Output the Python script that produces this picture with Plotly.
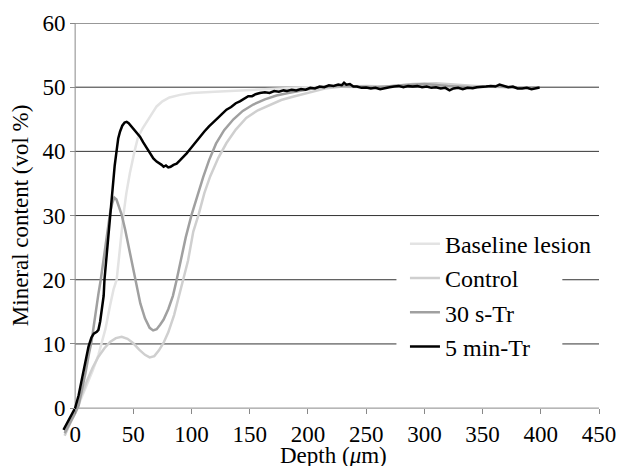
import plotly.graph_objects as go

# ---------------- data ----------------
baseline_x = [-9, -5, 0, 5, 10, 15, 20, 23, 26, 30, 33, 35.7, 38.5, 41.4, 44, 47, 51, 54, 58, 62, 66, 70, 75, 81, 90,
              100, 120, 150, 180, 200, 220, 240, 260, 280, 300, 320, 340, 360, 380, 398]
baseline_y = [-4.2, -2.8, -0.8, 1.4, 3.6, 5.8, 8.3, 10.2, 12.3, 16.0, 18.5, 20.0, 25.0, 30.0, 33.5, 36.6, 40.0, 42.2,
              43.6, 44.7, 46.0, 47.0, 47.8, 48.4, 48.8, 49.1, 49.3, 49.6, 49.8, 50.0, 50.1, 50.0, 49.9, 50.2, 50.4,
              50.0, 49.9, 50.1, 50.0, 49.9]

control_x = [-9, -5, 0, 5, 10, 15, 20, 25, 30, 35, 40, 45, 50, 55, 60, 64, 68, 72, 76, 80, 85, 90, 93, 97, 101.5,
             106, 111, 116, 123, 130, 138, 147, 157, 167, 177, 187, 197, 207, 216, 230, 250, 270, 290, 310, 330, 350,
             370, 385, 398]
control_y = [-4.3, -2.6, -0.5, 1.8, 4.2, 6.3, 8.0, 9.3, 10.3, 10.9, 11.1, 10.8, 10.1, 9.1, 8.3, 7.9, 8.1, 9.0, 10.2,
             11.8, 14.5, 18.0, 20.0, 23.0, 27.5, 30.1, 33.5, 36.1, 39.0, 41.3, 43.4, 45.2, 46.4, 47.2, 48.0, 48.5,
             49.0, 49.5, 49.85, 50.1, 50.2, 50.1, 50.5, 50.6, 50.3, 50.1, 50.0, 49.9, 50.0]

tr30s_x = [-9, -5, 0, 3, 6, 9, 12, 14, 16, 18.6, 20, 22, 24, 26, 28, 30, 32, 33.7, 35.5, 38, 40, 43, 47, 50, 53, 56,
           60, 64, 67, 70, 73, 76, 80, 84, 87, 90, 95, 100, 105, 110, 115, 121, 128, 136, 144, 153, 163, 173, 183,
           193, 202, 210, 225, 240, 260, 280, 300, 320, 340, 360, 380, 398]
tr30s_y = [-3.9, -2.6, -0.8, 0.4, 2.8, 5.6, 8.6, 10.3, 12.8, 16.3, 17.8, 20.0, 22.6, 25.8, 28.3, 30.4, 32.0, 32.8,
           32.5, 31.3, 30.1, 27.8, 24.4, 21.6, 18.8, 16.3, 14.0, 12.5, 12.1, 12.3, 13.0, 13.8, 15.4, 17.5, 19.8, 22.5,
           26.6, 30.1, 33.2, 36.0, 38.6, 41.2, 43.3, 45.0, 46.3, 47.3, 48.1, 48.7, 49.1, 49.4, 49.7, 50.0, 50.2, 50.1,
           50.0, 50.3, 50.5, 50.2, 50.0, 50.2, 49.9, 50.0]

tr5m_x = [-10, -7, -4, 0, 3, 6, 9, 11.5, 14, 16, 18.6, 20, 21.5, 23, 24.5, 25.2, 27.5, 30, 32, 34, 35.7, 37, 38.6,
          40.5, 42.5, 44.3, 46, 48, 50, 53, 55.7, 58.5, 61.5, 64, 67.2, 70, 72, 74.3, 76, 78, 80, 82, 84.5, 87.2, 90,
          93, 95.8, 99, 103, 107, 111, 115, 118.6, 122, 126, 130, 134, 138, 141.5, 145, 148.7, 152, 155, 158.7, 163,
          167, 171, 175, 179, 182, 186, 190, 194, 198, 202, 206, 210, 214, 218, 222, 226, 229, 231, 233, 236, 239,
          242, 246, 250, 254, 258, 262, 266, 270, 274, 278, 282, 286, 290, 294, 298, 302, 306, 310, 314, 318, 321.6,
          325, 329, 333, 337, 341.6, 345, 349, 353, 357, 361, 364.5, 368, 372, 376, 380, 384, 388, 392, 396, 399]
tr5m_y = [-3.4, -2.4, -1.3, 0.0, 2.0, 4.6, 7.5, 9.6, 11.0, 11.6, 11.9, 12.2, 13.5, 15.5, 17.5, 20.0, 25.0, 30.0,
          34.0, 37.8, 40.2, 42.0, 43.1, 44.0, 44.5, 44.6, 44.4, 44.0, 43.6, 43.0, 42.3, 41.4, 40.5, 39.7, 38.9, 38.4,
          38.2, 37.9, 37.6, 37.8, 37.5, 37.6, 37.9, 38.1, 38.6, 39.1, 39.7, 40.4, 41.3, 42.3, 43.1, 43.9, 44.6, 45.1,
          45.8, 46.5, 46.9, 47.5, 47.8, 48.2, 48.6, 48.6, 48.9, 49.1, 49.2, 49.1, 49.4, 49.3, 49.5, 49.4, 49.6, 49.5,
          49.7, 49.6, 49.9, 49.8, 50.1, 50.0, 50.3, 50.2, 50.4, 50.3, 50.7, 50.4, 50.5, 50.1, 50.1, 49.9, 49.95, 49.8,
          49.9, 49.7, 49.9, 50.0, 50.1, 50.2, 50.0, 50.2, 50.1, 50.2, 50.0, 50.1, 49.9, 50.0, 49.8, 49.9, 49.5, 49.8,
          49.9, 49.7, 49.9, 49.85, 50.0, 50.0, 50.1, 50.2, 50.1, 50.4, 50.2, 50.0, 50.1, 49.8, 49.8, 49.9, 49.7, 49.9,
          49.95]

series_names = ["Baseline lesion", "Control", "30 s-Tr", "5 min-Tr"]
series_colors = ["#e3e3e3", "#cfcfcf", "#a0a0a0", "#000000"]

x_ticks = [0, 50, 100, 150, 200, 250, 300, 350, 400, 450]
y_ticks = [0, 10, 20, 30, 40, 50, 60]
grid_values = [10, 20, 30, 40, 50, 60]

FONT = "Liberation Serif"
X_RANGE = [-13, 450]
Y_RANGE = [-4.5, 60]

fig = go.Figure()
for xs, ys, name, col in zip([baseline_x, control_x, tr30s_x, tr5m_x],
                             [baseline_y, control_y, tr30s_y, tr5m_y],
                             series_names, series_colors):
    fig.add_trace(go.Scatter(x=xs, y=ys, mode="lines", name=name,
                             line=dict(color=col, width=2.5)))

shapes = []
for g in grid_values:
    shapes.append(dict(type="line", xref="x", yref="y", x0=0, x1=450, y0=g, y1=g,
                       line=dict(color="#333333", width=1), layer="below"))
# axis lines
shapes.append(dict(type="line", xref="x", yref="y", x0=0, x1=450, y0=0, y1=0,
                   line=dict(color="#888888", width=1), layer="below"))
shapes.append(dict(type="line", xref="x", yref="y", x0=0, x1=0, y0=0, y1=60,
                   line=dict(color="#888888", width=1), layer="below"))
# legend backing box (hides gridlines behind legend)
shapes.append(dict(type="rect", xref="x", yref="y", x0=276, x1=418.5, y0=5, y1=25,
                   fillcolor="white", line=dict(width=0), layer="below"))

x_pos = (0 - Y_RANGE[0]) / (Y_RANGE[1] - Y_RANGE[0])
y_pos = (0 - X_RANGE[0]) / (X_RANGE[1] - X_RANGE[0])

fig.update_layout(
    width=617, height=466,
    margin=dict(l=60, r=18, t=23, b=29, autoexpand=False),
    paper_bgcolor="white", plot_bgcolor="white",
    font=dict(family=FONT, size=22, color="black"),
    showlegend=True,
    legend=dict(x=0.64, y=0.520, xanchor="left", yanchor="top",
                bgcolor="rgba(0,0,0,0)", borderwidth=0,
                font=dict(family=FONT, size=24, color="black"),
                tracegroupgap=0),
    xaxis=dict(range=X_RANGE, tickvals=x_ticks, ticktext=[str(v) for v in x_ticks],
               ticks="outside", ticklen=5, tickcolor="#888888", tickwidth=1,
               showline=False, showgrid=False, zeroline=False, automargin=False,
               anchor="free", position=x_pos, ticklabeloverflow="allow",
               tickfont=dict(family=FONT, size=23, color="black")),
    yaxis=dict(range=Y_RANGE, tickvals=y_ticks, ticktext=[str(v) for v in y_ticks],
               ticks="outside", ticklen=5, tickcolor="#888888", tickwidth=1,
               showline=False, showgrid=False, zeroline=False, automargin=False,
               anchor="free", position=y_pos,
               tickfont=dict(family=FONT, size=23, color="black")),
    shapes=shapes,
    annotations=[
        dict(text="Depth (<i>μ</i>m)", xref="paper", yref="paper",
             x=0.5065, y=-0.045, xanchor="center", yanchor="middle", showarrow=False,
             font=dict(family=FONT, size=23, color="black")),
        dict(text="Mineral content (vol %)", xref="paper", yref="paper",
             x=-0.074, y=0.536, xanchor="center", yanchor="middle", showarrow=False,
             textangle=-90, font=dict(family=FONT, size=23, color="black")),
    ],
)

fig.write_html("out.html", config={"displayModeBar": False},
               post_script="document.body.style.margin='0px';")
